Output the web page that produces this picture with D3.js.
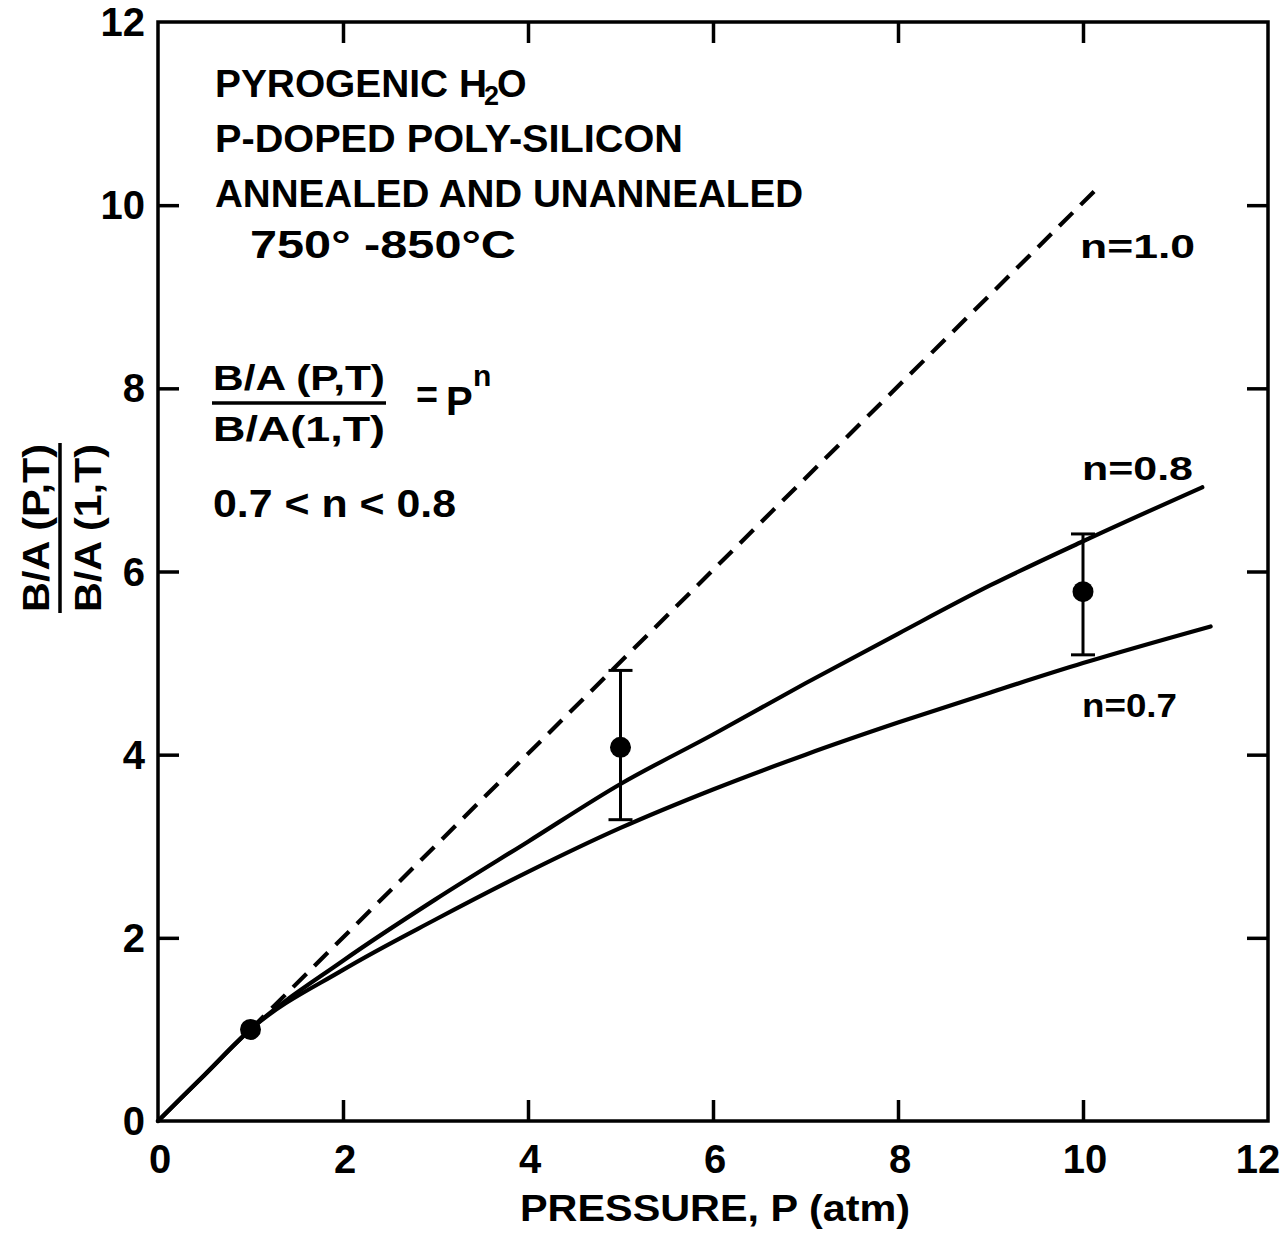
<!DOCTYPE html>
<html>
<head>
<meta charset="utf-8">
<script src="https://cdn.jsdelivr.net/npm/d3@7"></script>
<style>
  html, body { margin: 0; padding: 0; background: #fff; }
  svg { display: block; }
  text { font-family: "Liberation Sans", Arial, sans-serif; font-weight: 700; fill: #000; }
</style>
</head>
<body>
<svg id="chart" width="1283" height="1242"></svg>
<script>
// ---- data ----
const axisTicks = [0, 2, 4, 6, 8, 10, 12];

const curve08P = [0, 0.5, 1, 2, 3, 4, 5, 6, 7, 8, 9, 10, 11.29];
const curve08R = [0, 0.5, 1, 1.75, 2.42, 3.05, 3.68, 4.22, 4.78, 5.32, 5.85, 6.33, 6.92];

const curve07P = [0, 0.5, 1, 2, 3, 4, 5, 6, 7, 8, 9, 10, 11.38];
const curve07R = [0, 0.5, 1, 1.65, 2.2, 2.72, 3.2, 3.62, 4.0, 4.35, 4.68, 5.0, 5.4];

const curve10P = [1, 10.13];
const curve10R = [1, 10.16];

const pointP = [1, 5, 10];
const pointR = [1, 4.08, 5.78];
const errLow = [null, 3.29, 5.09];
const errHigh = [null, 4.92, 6.41];

const curveLabels = ["n=1.0", "n=0.8", "n=0.7"];
const noteLines = ["PYROGENIC H", "P-DOPED POLY-SILICON", "ANNEALED AND UNANNEALED", "750° -850°C"];

// ---- drawing ----
const svg = d3.select("#chart");
const x = d3.scaleLinear().domain([0, 12]).range([158, 1268]);
const y = d3.scaleLinear().domain([0, 12]).range([1121, 22]);
const ink = "#000";

// frame
svg.append("rect")
  .attr("x", x(0)).attr("y", y(12))
  .attr("width", x(12) - x(0)).attr("height", y(0) - y(12))
  .attr("fill", "none").attr("stroke", ink).attr("stroke-width", 3.5);

const inner = [2, 4, 6, 8, 10];
function styleAxis(g) {
  g.select(".domain").remove();
  g.selectAll(".tick line").attr("stroke", ink).attr("stroke-width", 3.5);
}
svg.append("g").attr("transform", `translate(0,${y(0)})`)
  .call(d3.axisBottom(x).tickValues(inner).tickSize(-21).tickFormat(""))
  .call(styleAxis);
svg.append("g").attr("transform", `translate(0,${y(12)})`)
  .call(d3.axisTop(x).tickValues(inner).tickSize(-21).tickFormat(""))
  .call(styleAxis);
svg.append("g").attr("transform", `translate(${x(0)},0)`)
  .call(d3.axisLeft(y).tickValues(inner).tickSize(-21).tickFormat(""))
  .call(styleAxis);
svg.append("g").attr("transform", `translate(${x(12)},0)`)
  .call(d3.axisRight(y).tickValues(inner).tickSize(-21).tickFormat(""))
  .call(styleAxis);

// tick labels
svg.append("g").selectAll("text").data(axisTicks).join("text")
  .attr("x", d => d === 12 ? x(d) - 10 : x(d) + 2)
  .attr("y", 1173)
  .attr("text-anchor", "middle")
  .attr("font-size", 40)
  .text(d => d);
svg.append("g").selectAll("text").data(axisTicks).join("text")
  .attr("x", 145)
  .attr("y", d => y(d) + 14)
  .attr("text-anchor", "end")
  .attr("font-size", 40)
  .text(d => d);

// x title
svg.append("text").attr("x", 520).attr("y", 1221)
  .attr("font-size", 37)
  .attr("textLength", 390).attr("lengthAdjust", "spacingAndGlyphs")
  .text("PRESSURE, P (atm)");

// y title (rotated fraction)
const yt = svg.append("g").attr("transform", "translate(0,528) rotate(-90)");
yt.append("text").attr("x", -84).attr("y", 49)
  .attr("font-size", 36).attr("textLength", 168).attr("lengthAdjust", "spacingAndGlyphs")
  .text("B/A (P,T)");
yt.append("line").attr("x1", -85).attr("x2", 85).attr("y1", 60).attr("y2", 60)
  .attr("stroke", ink).attr("stroke-width", 3.5);
yt.append("text").attr("x", -84).attr("y", 101)
  .attr("font-size", 36).attr("textLength", 168).attr("lengthAdjust", "spacingAndGlyphs")
  .text("B/A (1,T)");

// curves
const line = d3.line().x(d => x(d[0])).y(d => y(d[1])).curve(d3.curveMonotoneX);
const c08 = curve08P.map((p, i) => [p, curve08R[i]]);
const c07 = curve07P.map((p, i) => [p, curve07R[i]]);
const c10 = curve10P.map((p, i) => [p, curve10R[i]]);
svg.append("path").attr("d", line(c07)).attr("fill", "none")
  .attr("stroke", ink).attr("stroke-width", 4.2).attr("stroke-linecap", "round");
svg.append("path").attr("d", line(c08)).attr("fill", "none")
  .attr("stroke", ink).attr("stroke-width", 4.2).attr("stroke-linecap", "round");
svg.append("path").attr("d", line(c10)).attr("fill", "none")
  .attr("stroke", ink).attr("stroke-width", 4.2).attr("stroke-dasharray", "19 11");

// error bars
const pts = pointP.map((p, i) => ({ p, r: pointR[i], lo: errLow[i], hi: errHigh[i] }));
const eb = pts.filter(d => d.lo !== null);
svg.append("g").selectAll("line").data(eb).join("line")
  .attr("x1", d => x(d.p)).attr("x2", d => x(d.p))
  .attr("y1", d => y(d.lo)).attr("y2", d => y(d.hi))
  .attr("stroke", ink).attr("stroke-width", 3);
["lo", "hi"].forEach(k => {
  svg.append("g").selectAll("line").data(eb).join("line")
    .attr("x1", d => x(d.p) - 12).attr("x2", d => x(d.p) + 12)
    .attr("y1", d => y(d[k])).attr("y2", d => y(d[k]))
    .attr("stroke", ink).attr("stroke-width", 3);
});
svg.append("g").selectAll("circle").data(pts).join("circle")
  .attr("cx", d => x(d.p)).attr("cy", d => y(d.r)).attr("r", 10.5).attr("fill", ink);

// curve labels
const labelPos = [[1080, 258, 115], [1082, 480, 111], [1082, 717, 95]];
svg.append("g").selectAll("text").data(curveLabels).join("text")
  .attr("x", (d, i) => labelPos[i][0]).attr("y", (d, i) => labelPos[i][1])
  .attr("font-size", 34).attr("textLength", (d, i) => labelPos[i][2])
  .attr("lengthAdjust", "spacingAndGlyphs")
  .text(d => d);

// annotation block
const n1 = svg.append("text").attr("x", 215).attr("y", 97).attr("font-size", 38);
n1.append("tspan").text("PYROGENIC H").attr("textLength", 272).attr("lengthAdjust", "spacingAndGlyphs");
n1.append("tspan").attr("font-size", 27).attr("dy", 8).attr("dx", -3).text("2");
n1.append("tspan").attr("dy", -8).attr("dx", -2).text("O");
const noteSpec = [[215, 152, 468], [215, 207, 588], [250, 258, 266]];
[1, 2, 3].forEach((k, i) => {
  svg.append("text").attr("x", noteSpec[i][0]).attr("y", noteSpec[i][1])
    .attr("font-size", 38).attr("textLength", noteSpec[i][2])
    .attr("lengthAdjust", "spacingAndGlyphs")
    .text(noteLines[k]);
});

// formula
svg.append("text").attr("x", 213).attr("y", 390).attr("font-size", 35)
  .attr("textLength", 172).attr("lengthAdjust", "spacingAndGlyphs").text("B/A (P,T)");
svg.append("line").attr("x1", 212).attr("x2", 386).attr("y1", 403).attr("y2", 403)
  .attr("stroke", ink).attr("stroke-width", 3.5);
svg.append("text").attr("x", 213).attr("y", 441).attr("font-size", 35)
  .attr("textLength", 172).attr("lengthAdjust", "spacingAndGlyphs").text("B/A(1,T)");
svg.append("text").attr("x", 416).attr("y", 408).attr("font-size", 38)
  .attr("textLength", 22).attr("lengthAdjust", "spacingAndGlyphs").text("=");
svg.append("text").attr("x", 446).attr("y", 415).attr("font-size", 40).text("P");
svg.append("text").attr("x", 473).attr("y", 386).attr("font-size", 30).text("n");
svg.append("text").attr("x", 213).attr("y", 517).attr("font-size", 38)
  .attr("textLength", 243).attr("lengthAdjust", "spacingAndGlyphs").text("0.7 < n < 0.8");
</script>
</body>
</html>
